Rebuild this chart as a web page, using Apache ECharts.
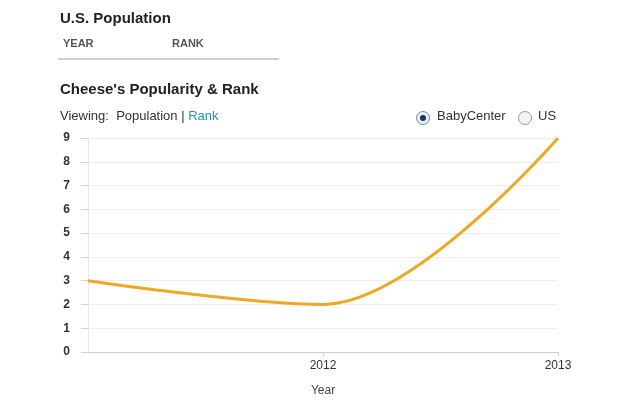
<!DOCTYPE html>
<html>
<head>
<meta charset="utf-8">
<script src="https://cdn.jsdelivr.net/npm/echarts@6/dist/echarts.min.js"></script>
<style>
html, body { margin: 0; padding: 0; background: #fff; }
#chart { width: 620px; height: 400px; }
</style>
</head>
<body>
<div id="chart"></div>
<script>
var years = ['2011', '2012', '2013'];
var rank = [3, 2, 9];
var yTicks = [0, 1, 2, 3, 4, 5, 6, 7, 8, 9];

var chart = echarts.init(document.getElementById('chart'));
var font = "'Liberation Sans', Arial, Helvetica, sans-serif";

var option = {
  backgroundColor: '#fff',
  textStyle: { fontFamily: font },
  grid: { left: 88, right: 62, top: 138, bottom: 48, outerBoundsMode: 'none', containLabel: false },
  xAxis: {
    type: 'category',
    data: years,
    boundaryGap: false,
    name: 'Year',
    nameLocation: 'middle',
    nameGap: 33,
    nameTextStyle: { color: '#444', fontSize: 12, fontFamily: font },
    axisLine: { lineStyle: { color: '#c8cdd6', width: 1 } },
    axisTick: {
      length: 4,
      lineStyle: { color: '#c8cdd6' },
      interval: function (i) { return i > 0; }
    },
    axisLabel: {
      color: '#333', fontSize: 12, margin: 8,
      interval: function (i) { return i > 0; }
    },
    splitLine: { show: false }
  },
  yAxis: {
    type: 'value',
    min: 0,
    max: 9,
    interval: 1,
    axisLine: { show: true, lineStyle: { color: '#e3e7ee' } },
    axisTick: { show: true, length: 7, lineStyle: { color: '#d0d4da' } },
    axisLabel: {
      color: '#333', fontSize: 12, fontWeight: 'bold', margin: 18,
      formatter: function (v) { return yTicks.indexOf(v) >= 0 ? String(v) : ''; }
    },
    splitLine: { lineStyle: { color: '#ebedf0' } }
  },
  series: [{
    name: 'BabyCenter',
    type: 'line',
    data: rank,
    smooth: 0.35,
    showSymbol: false,
    lineStyle: { color: '#eea825', width: 3 },
    itemStyle: { color: '#eea825' }
  }],
  graphic: [
    { type: 'text', left: 60, top: 11, style: { text: 'U.S. Population', font: 'bold 15px ' + font, fill: '#222' } },
    { type: 'text', left: 63, top: 38, style: { text: 'YEAR', font: 'bold 11px ' + font, fill: '#555' } },
    { type: 'text', left: 172, top: 38, style: { text: 'RANK', font: 'bold 11px ' + font, fill: '#555' } },
    { type: 'rect', shape: { x: 58, y: 58, width: 221, height: 2 }, style: { fill: '#cfcfcf' } },
    { type: 'text', left: 60, top: 82, style: { text: "Cheese's Popularity & Rank", font: 'bold 15px ' + font, fill: '#222' } },
    { type: 'text', left: 60, top: 110, style: {
      text: '{a|Viewing:  Population | }{b|Rank}',
      rich: {
        a: { font: '13px ' + font, fill: '#333' },
        b: { font: '13px ' + font, fill: '#2a8fb4' }
      }
    } },
    { type: 'circle', shape: { cx: 423, cy: 118, r: 6.5 }, style: { fill: '#e8eef5', stroke: '#7a8ea6', lineWidth: 1 } },
    { type: 'circle', shape: { cx: 423, cy: 118, r: 3 }, style: { fill: '#1f3550' } },
    { type: 'text', left: 437, top: 110, style: { text: 'BabyCenter', font: '13px ' + font, fill: '#333' } },
    { type: 'circle', shape: { cx: 525, cy: 118, r: 6.5 }, style: { fill: '#f4f4f4', stroke: '#9a9a9a', lineWidth: 1 } },
    { type: 'text', left: 538, top: 110, style: { text: 'US', font: '13px ' + font, fill: '#333' } }
  ]
};

chart.setOption(option);
</script>
</body>
</html>
